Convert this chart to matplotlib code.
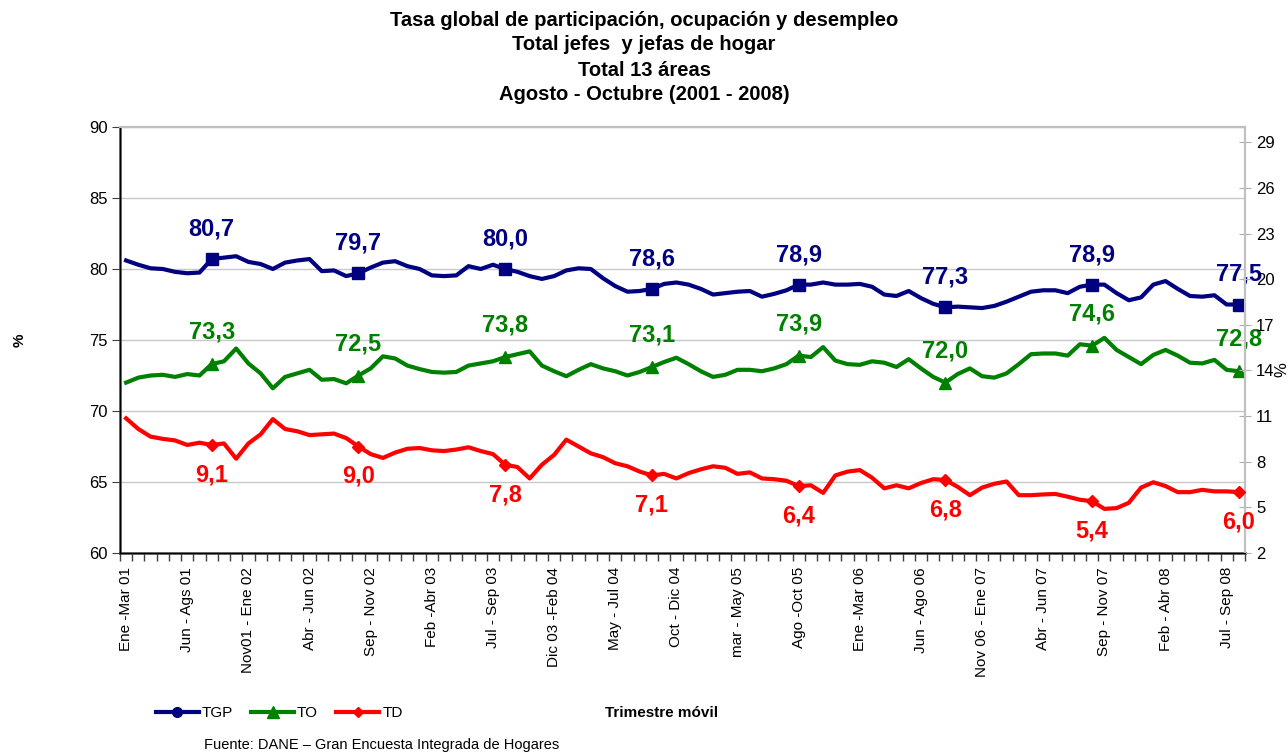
import matplotlib
matplotlib.use("Agg")
import matplotlib.pyplot as plt
from matplotlib.lines import Line2D
import numpy as np

plt.rcParams["font.family"] = ["Liberation Sans", "DejaVu Sans"]

# Trimestre móvil: Ene-Mar 01 ... Ago-Oct 08 (92 periods)
tgp = [80.6, 80.3, 80.05, 80.0, 79.8, 79.7, 79.75, 80.7, 80.8, 80.9,
       80.5, 80.35, 80.0, 80.45, 80.6, 80.7, 79.85, 79.9, 79.5, 79.7,
       80.1, 80.45, 80.55, 80.2, 80.0, 79.55, 79.5, 79.55, 80.2, 80.0,
       80.3, 80.0, 79.8, 79.5, 79.3, 79.5, 79.9, 80.05, 80.0, 79.35,
       78.8, 78.4, 78.45, 78.6, 78.95, 79.05, 78.9, 78.6, 78.2, 78.3,
       78.4, 78.45, 78.05, 78.25, 78.5, 78.9, 78.9, 79.05, 78.9, 78.9,
       78.95, 78.75, 78.2, 78.1, 78.45, 77.95, 77.55, 77.3, 77.35, 77.3,
       77.25, 77.4, 77.7, 78.05, 78.4, 78.5, 78.5, 78.3, 78.75, 78.9,
       78.9, 78.3, 77.8, 78.0, 78.9, 79.15, 78.6, 78.1, 78.05, 78.15,
       77.5, 77.5]

to = [72.0, 72.35, 72.5, 72.55, 72.4, 72.6, 72.5, 73.3, 73.5, 74.4,
      73.35, 72.65, 71.6, 72.4, 72.65, 72.9, 72.2, 72.25, 71.95, 72.5,
      73.0, 73.85, 73.7, 73.2, 72.95, 72.75, 72.7, 72.75, 73.2, 73.35,
      73.5, 73.8, 74.0, 74.2, 73.2, 72.8, 72.45, 72.9, 73.3, 73.0,
      72.8, 72.5, 72.75, 73.1, 73.45, 73.75, 73.3, 72.8, 72.4, 72.55,
      72.9, 72.9, 72.8, 73.0, 73.3, 73.9, 73.8, 74.5, 73.55, 73.3,
      73.25, 73.5, 73.4, 73.1, 73.65, 73.0, 72.4, 72.0, 72.6, 73.0,
      72.45, 72.35, 72.65, 73.3, 74.0, 74.05, 74.05, 73.9, 74.7, 74.6,
      75.15, 74.3, 73.8, 73.3, 73.95, 74.3, 73.9, 73.4, 73.35, 73.6,
      72.9, 72.8]

td = [10.85, 10.15, 9.65, 9.5, 9.4, 9.1, 9.25, 9.1, 9.2, 8.2,
      9.2, 9.8, 10.8, 10.15, 10.0, 9.75, 9.8, 9.85, 9.55, 9.0,
      8.5, 8.25, 8.6, 8.85, 8.9, 8.75, 8.7, 8.8, 8.95, 8.7,
      8.5, 7.8, 7.65, 6.9, 7.8, 8.45, 9.45, 9.0, 8.55, 8.3,
      7.9, 7.7, 7.35, 7.1, 7.2, 6.9, 7.25, 7.5, 7.7, 7.6,
      7.2, 7.3, 6.9, 6.85, 6.75, 6.4, 6.45, 5.95, 7.1, 7.35,
      7.45, 6.95, 6.25, 6.45, 6.25, 6.6, 6.85, 6.8, 6.35, 5.8,
      6.3, 6.55, 6.7, 5.8, 5.8, 5.85, 5.88, 5.7, 5.5, 5.4,
      4.9, 4.95, 5.3, 6.3, 6.65, 6.4, 6.0, 6.0, 6.15, 6.05,
      6.05, 6.0]

tick_labels = ["Ene -Mar 01", "Jun - Ags 01", "Nov01 - Ene 02", "Abr - Jun 02",
               "Sep - Nov 02", "Feb -Abr 03", "Jul - Sep 03", "Dic 03 -Feb 04",
               "May - Jul 04", "Oct - Dic 04", "mar - May 05", "Ago -Oct 05",
               "Ene -Mar 06", "Jun - Ago 06", "Nov 06 - Ene 07", "Abr - Jun 07",
               "Sep - Nov 07", "Feb - Abr 08", "Jul - Sep 08"]

# Ago-Oct of each year gets a marker and a label
marker_idx = [7, 19, 31, 43, 55, 67, 79, 91]

NAVY = "#000080"
GREEN = "#008000"
RED = "#FF0000"


def fmt(v):
    return f"{v:.1f}".replace(".", ",")


fig = plt.figure(figsize=(12.88, 7.55), dpi=100)
ax = fig.add_axes([120 / 1288, 1 - 553 / 755, 1125 / 1288, 426 / 755])
ax2 = ax.twinx()

x = np.arange(len(tgp))
mk = np.array(marker_idx)

ax.plot(x, tgp, color=NAVY, lw=3, solid_joinstyle="round", zorder=3)
ax.plot(mk, np.array(tgp)[mk], ls="none", marker="s", ms=8, color=NAVY, zorder=4)
ax.plot(x, to, color=GREEN, lw=3, solid_joinstyle="round", zorder=3)
ax.plot(mk, np.array(to)[mk], ls="none", marker="^", ms=9, color=GREEN, zorder=4)
ax2.plot(x, td, color=RED, lw=3, solid_joinstyle="round", zorder=3)
ax2.plot(mk, np.array(td)[mk], ls="none", marker="D", ms=6, color=RED, zorder=4)

for i in marker_idx:
    ax.annotate(fmt(tgp[i]), (i, tgp[i]), xytext=(0, 30), textcoords="offset pixels",
                ha="center", va="center", fontsize=17, fontweight="bold", color=NAVY)
    ax.annotate(fmt(to[i]), (i, to[i]), xytext=(0, 32), textcoords="offset pixels",
                ha="center", va="center", fontsize=17, fontweight="bold", color=GREEN)
    ax2.annotate(fmt(td[i]), (i, td[i]), xytext=(0, -30), textcoords="offset pixels",
                 ha="center", va="center", fontsize=17, fontweight="bold", color=RED)

ax.set_xlim(-0.5, len(tgp) - 0.5)
ax.set_ylim(60, 90)
ax2.set_ylim(2, 30)
ax.set_yticks(np.arange(60, 91, 5))
ax2.set_yticks(np.arange(2, 30, 3))
ax.yaxis.grid(True, color="#C8C8C8", lw=1)
ax.set_axisbelow(True)

ax.set_xticks(np.arange(0, len(tick_labels) * 5, 5))
ax.set_xticklabels(tick_labels, rotation=90, fontsize=11)
ax.set_xticks(np.arange(-0.5, len(tgp)), minor=True)
ax.tick_params(axis="x", which="major", length=0, pad=10)
ax.tick_params(axis="x", which="minor", length=6, width=1, color="#404040", direction="out")
ax.tick_params(axis="y", labelsize=12, length=6, color="#404040", direction="out", pad=3)
ax2.tick_params(axis="y", labelsize=12, length=8, color="#B0B0B0", direction="inout", pad=4)

for s in ["left", "bottom"]:
    ax.spines[s].set_color("#404040")
    ax.spines[s].set_linewidth(1.8)
for a in (ax, ax2):
    a.spines["top"].set_color("#C0C0C0")
    a.spines["right"].set_color("#C0C0C0")
    a.spines["top"].set_linewidth(1.5)
    a.spines["right"].set_linewidth(1.5)

fig.text(20 / 1288, 1 - 340 / 755, "%", rotation=90, fontsize=11, fontweight="bold",
         ha="center", va="center")
fig.text(1282 / 1288, 1 - 370 / 755, "%", rotation=90, fontsize=12,
         ha="center", va="center")

titles = ["Tasa global de participación, ocupación y desempleo",
          "Total jefes  y jefas de hogar",
          "Total 13 áreas",
          "Agosto - Octubre (2001 - 2008)"]
for k, t in enumerate(titles):
    fig.text(644 / 1288, 1 - (20 + 25 * k) / 755, t, ha="center", va="center",
             fontsize=14.5, fontweight="bold")

handles = [Line2D([], [], color=NAVY, lw=3, marker="o", ms=7),
           Line2D([], [], color=GREEN, lw=3, marker="^", ms=8),
           Line2D([], [], color=RED, lw=3, marker="D", ms=5)]
fig.legend(handles, ["TGP", "TO", "TD"], loc="center left",
           bbox_to_anchor=(142 / 1288, 1 - 713 / 755), ncol=3, frameon=False,
           fontsize=11, handlelength=2.8, handletextpad=0.2, columnspacing=1.2)

fig.text(662 / 1288, 1 - 713 / 755, "Trimestre móvil", ha="center", va="center",
         fontsize=11, fontweight="bold")
fig.text(382 / 1288, 1 - 745 / 755, "Fuente: DANE \u2013 Gran Encuesta Integrada de Hogares",
         ha="center", va="center", fontsize=10.5)

fig.savefig("out.png", dpi=100)
